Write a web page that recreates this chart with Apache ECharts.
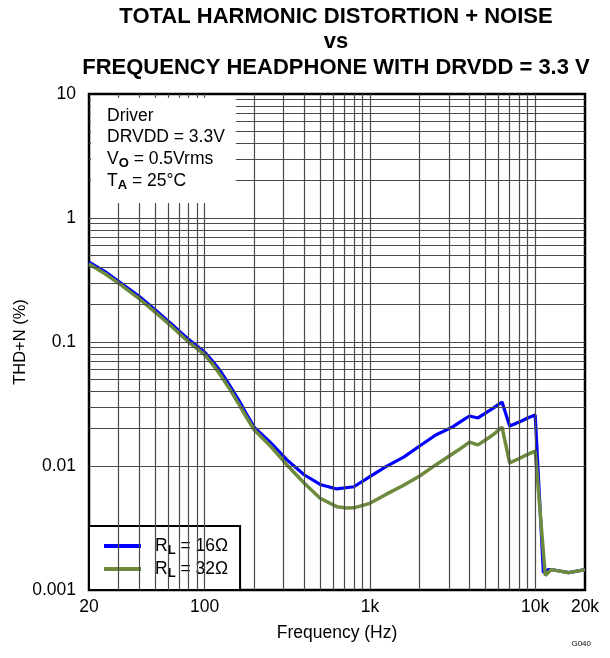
<!DOCTYPE html>
<html>
<head>
<meta charset="utf-8">
<script src="https://cdn.jsdelivr.net/npm/echarts@6/dist/echarts.min.js"></script>
<style>html,body{margin:0;padding:0;background:#fff}#c{width:610px;height:658px}</style>
</head>
<body>
<div id="c"></div>
<script>
// ---- data ----
const freq16 = [20,25,30,40,50,63,80,100,112,125,140,160,180,200,250,315,400,500,630,800,1000,1250,1600,2000,2500,3150,3500,4000,4500,5000,5600,6300,7000,8000,9000,10000,11200,12000,13000,16000,20000];
const thd16  = [0.44,0.37,0.31,0.235,0.183,0.14,0.105,0.083,0.07,0.058,0.046,0.0345,0.026,0.0205,0.0155,0.0112,0.0085,0.0071,0.00653,0.0068,0.0082,0.0099,0.0118,0.0145,0.0178,0.0206,0.0226,0.0253,0.0244,0.0267,0.0294,0.0328,0.021,0.0226,0.0244,0.0258,0.00138,0.00146,0.00145,0.00138,0.00146];
const freq32 = [20,25,30,40,50,63,80,100,112,125,140,160,180,200,250,315,400,500,630,720,800,1000,1250,1600,2000,2500,3150,3500,4000,4500,5000,5600,6300,7000,8000,9000,10000,11500,12500,16000,20000];
const thd32  = [0.425,0.355,0.30,0.225,0.175,0.134,0.1,0.079,0.066,0.054,0.043,0.032,0.0245,0.0195,0.0145,0.0102,0.0073,0.0055,0.0047,0.00458,0.0046,0.0050,0.0059,0.0070,0.0083,0.0102,0.0125,0.0137,0.0156,0.0148,0.0162,0.018,0.0206,0.0106,0.0115,0.0124,0.0132,0.00131,0.00146,0.00138,0.00146];
const xTickLabels = [20,100,1000,10000,20000];
const xGridDecades = [10,100,1000,10000];
const yGridDecades = [0.001,0.01,0.1,1];
const seriesNames = ['RL = 16Ω','RL = 32Ω'];

// gridline positions (ticks)
const xGrid = [], yGrid = [];
xGridDecades.forEach(d => { for (let m=1;m<=9;m++){ const v=+(d*m).toPrecision(3); if (v>20 && v<20000 && xGrid.indexOf(v)<0) xGrid.push(v);} });
yGridDecades.forEach(d => { for (let m=1;m<=9;m++){ const v=+(d*m).toPrecision(3); if (v>0.001 && v<10 && yGrid.indexOf(v)<0) yGrid.push(v);} });

const pair = (xs, ys) => xs.map((x,i)=>[x, ys[i]]);
const FF = 'Liberation Sans, Arial, sans-serif';

const chart = echarts.init(document.getElementById('c'), null, {renderer:'canvas'});
chart.setOption({
  animation: false,
  backgroundColor: '#fff',
  textStyle: { fontFamily: FF },
  title: [
    {
      text: 'TOTAL HARMONIC DISTORTION + NOISE\nvs\nFREQUENCY HEADPHONE WITH DRVDD = 3.3 V',
      left: 331, top: -1, textAlign: 'center',
      textStyle: { fontSize: 22, fontWeight: 'bold', color: '#000', lineHeight: 25.5, fontFamily: FF }
    },
    {
      text: '{n|Driver}\n{n|DRVDD = 3.3V}\n{n|V}{s|O}{n| = 0.5Vrms}\n{n|T}{s|A}{n| = 25°C}',
      left: 91, top: 96,
      padding: [9, 11, 11, 16],
      backgroundColor: '#fff',
      textStyle: {
        fontWeight: 'normal',
        rich: {
          n: { fontSize: 17.5, fontWeight: 'normal', color: '#000', lineHeight: 21.7, fontFamily: FF },
          s: { fontSize: 13, fontWeight: 'bold', color: '#000', lineHeight: 21.7, padding: [9,0,0,0], fontFamily: FF }
        }
      }
    },
    {
      text: 'G040', right: 14, bottom: 5,
      textStyle: { fontSize: 8, fontWeight: 'normal', color: '#000', fontFamily: FF }
    }
  ],
  legend: {
    data: seriesNames,
    orient: 'vertical',
    left: 89, bottom: 68,
    padding: [11, 12, 10, 15],
    itemGap: 3,
    itemWidth: 37, itemHeight: 4,
    icon: 'rect',
    backgroundColor: '#fff',
    borderColor: '#000', borderWidth: 2, borderRadius: 0,
    formatter: name => name === seriesNames[0] ? '{n|R}{s|L}{n| = 16Ω}' : '{n|R}{s|L}{n| = 32Ω}',
    textStyle: {
      padding: [0,0,0,9],
      rich: {
        n: { fontSize: 17.5, color: '#000', fontFamily: FF },
        s: { fontSize: 13, fontWeight: 'bold', color: '#000', padding: [9,0,0,0], fontFamily: FF }
      }
    }
  },
  grid: { left: 89, top: 94, right: 25, bottom: 68, outerBoundsMode: 'none', containLabel: false, show: true, borderColor: '#000', borderWidth: 2.5, backgroundColor: '#fff' },
  xAxis: {
    type: 'log', logBase: 10, min: 20, max: 20000,
    name: 'Frequency (Hz)', nameLocation: 'middle', nameGap: 34,
    nameTextStyle: { fontSize: 17.5, color: '#000', fontFamily: FF },
    axisLine: { show: false, onZero: false }, axisTick: { show: false }, splitLine: { show: false },
    axisLabel: {
      customValues: xTickLabels,
      margin: 8, fontSize: 17.5, color: '#000', fontFamily: FF,
      formatter: v => v >= 1000 ? (v/1000) + 'k' : String(v)
    }
  },
  yAxis: {
    type: 'log', logBase: 10, min: 0.001, max: 10,
    name: 'THD+N (%)', nameLocation: 'middle', nameGap: 60, nameMoveOverlap: false,
    nameTextStyle: { fontSize: 16.5, color: '#000', fontFamily: FF },
    axisLine: { show: false, onZero: false }, axisTick: { show: false }, splitLine: { show: false },
    axisLabel: {
      margin: 13, fontSize: 17.5, color: '#000', fontFamily: FF,
      formatter: v => String(+v.toPrecision(3))
    }
  },
  series: [
    {
      name: 'grid', type: 'line', data: [], silent: true, z: 1,
      markLine: {
        silent: true, symbol: ['none','none'], animation: false,
        label: { show: false },
        lineStyle: { color: '#4a4a4a', width: 1.2, type: 'solid' },
        emphasis: { disabled: true },
        data: xGrid.map(v => ({ xAxis: v })).concat(yGrid.map(v => ({ yAxis: v })))
      }
    },
    {
      name: seriesNames[0], type: 'line', data: pair(freq16, thd16), showSymbol: false, z: 3,
      lineStyle: { color: '#0000ff', width: 3.2 }, itemStyle: { color: '#0000ff' }
    },
    {
      name: seriesNames[1], type: 'line', data: pair(freq32, thd32), showSymbol: false, z: 4,
      lineStyle: { color: '#6e8b3d', width: 3.5 }, itemStyle: { color: '#6e8b3d' }
    }
  ]
});
</script>
</body>
</html>
